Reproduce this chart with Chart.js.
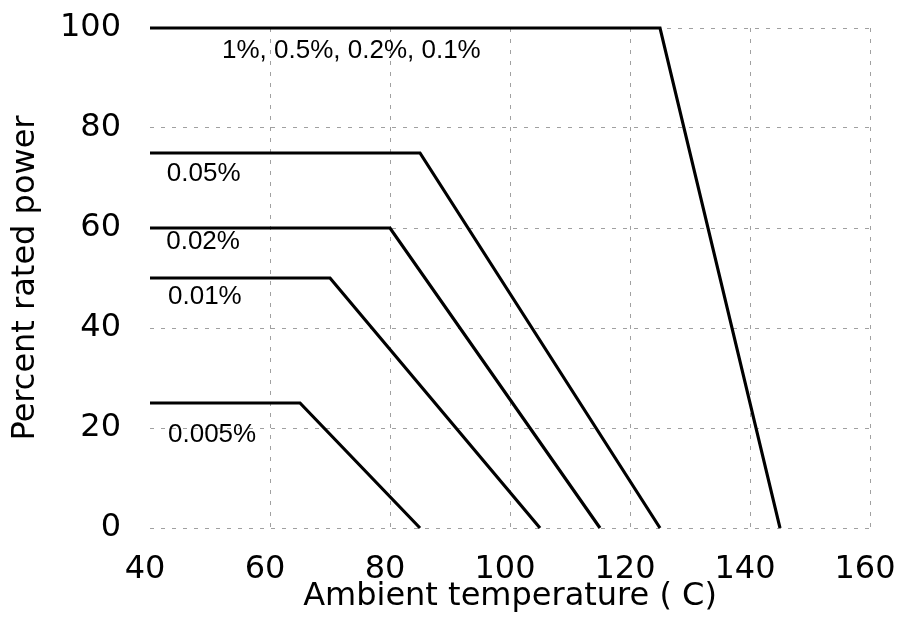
<!DOCTYPE html>
<html>
<head>
<meta charset="utf-8">
<script src="https://cdn.jsdelivr.net/npm/chart.js@4/dist/chart.umd.min.js"></script>
<style>
html,body{margin:0;padding:0;background:#fff;}
canvas{display:block;}
</style>
</head>
<body>
<canvas id="c" width="901" height="619"></canvas>
<script>
// Data
const seriesNames = ["1%, 0.5%, 0.2%, 0.1%", "0.05%", "0.02%", "0.01%", "0.005%"];
const temps100 = [40, 125, 145];
const power100 = [100, 100, 0];
const temps005 = [40, 85, 125];
const power005 = [75, 75, 0];
const temps002 = [40, 80, 115];
const power002 = [60, 60, 0];
const temps001 = [40, 70, 105];
const power001 = [50, 50, 0];
const temps0005 = [40, 65, 85];
const power0005 = [25, 25, 0];
const xTicks = [40, 60, 80, 100, 120, 140, 160];
const yTicks = [0, 20, 40, 60, 80, 100];

// label anchors (data units), kept apart from the series values
const labelAnchorX = [52, 42.8, 42.7, 43, 43];
const labelAnchorY = [95.4, 70.8, 57.2, 46.2, 18.6];

const seriesX = [temps100, temps005, temps002, temps001, temps0005];
const seriesY = [power100, power005, power002, power001, power0005];

const datasets = seriesX.map((xs, i) => ({
  label: seriesNames[i],
  data: xs.map((x, j) => ({x: x, y: seriesY[i][j]})),
  borderColor: '#000',
  borderWidth: 3.2,
  pointRadius: 0,
  fill: false,
  tension: 0,
  clip: 6,
  borderJoinStyle: 'miter'
}));

const FONT = "'DejaVu Sans', sans-serif";
const LABEL_FONT = "'Liberation Sans', Arial, sans-serif";

const labelPlugin = {
  id: 'seriesLabels',
  afterDatasetsDraw(chart) {
    const ctx = chart.ctx;
    const xs = chart.scales.x, ys = chart.scales.y;
    ctx.save();
    ctx.font = "26px " + LABEL_FONT;
    ctx.fillStyle = '#000';
    ctx.textAlign = 'left';
    ctx.textBaseline = 'middle';
    seriesNames.forEach((name, i) => {
      ctx.fillText(name, xs.getPixelForValue(labelAnchorX[i]), ys.getPixelForValue(labelAnchorY[i]));
    });
    ctx.restore();
  }
};

new Chart(document.getElementById('c'), {
  type: 'line',
  data: {datasets},
  plugins: [labelPlugin],
  options: {
    responsive: false,
    animation: false,
    layout: {padding: {left: 0, top: 28, right: 31, bottom: 0}},
    plugins: {legend: {display: false}, tooltip: {enabled: false}},
    scales: {
      x: {
        type: 'linear',
        min: 40, max: 160,
        afterBuildTicks: (s) => { s.ticks = xTicks.map(v => ({value: v})); },
        afterFit: (s) => { s.height = 91; s.paddingLeft = 0; s.paddingRight = 0; s.paddingTop = 0; s.paddingBottom = 0; },
        border: {display: false, dash: [4, 7]},
        grid: {
          color: (c) => c.tick && c.tick.value === 40 ? 'rgba(0,0,0,0)' : '#a0a0a0',
          lineWidth: 1,
          drawTicks: false
        },
        ticks: {
          padding: 22,
          labelOffset: -5,
          color: '#000',
          font: {family: FONT, size: 32},
          maxRotation: 0
        },
        title: {
          display: true,
          text: 'Ambient temperature ( C)',
          color: '#000',
          font: {family: FONT, size: 32},
          padding: {top: 0, bottom: 3}
        }
      },
      y: {
        type: 'linear',
        min: 0, max: 100,
        afterBuildTicks: (s) => { s.ticks = yTicks.map(v => ({value: v})); },
        afterFit: (s) => { s.width = 150; s.paddingLeft = 0; s.paddingRight = 0; s.paddingTop = 0; s.paddingBottom = 0; },
        border: {display: false, dash: [4, 7]},
        grid: {
          color: '#a0a0a0',
          lineWidth: 1,
          drawTicks: false
        },
        ticks: {
          padding: 29,
          color: '#000',
          font: {family: FONT, size: 32}
        },
        title: {
          display: true,
          text: 'Percent rated power',
          color: '#000',
          font: {family: FONT, size: 32},
          padding: {top: 6, bottom: 0}
        }
      }
    }
  }
});
</script>
</body>
</html>
